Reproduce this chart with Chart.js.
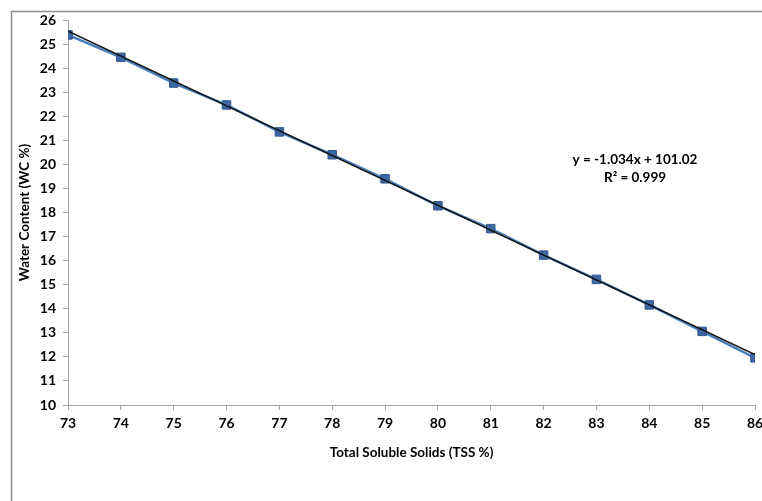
<!DOCTYPE html>
<html>
<head>
<meta charset="utf-8">
<script src="https://cdn.jsdelivr.net/npm/chart.js@4"></script>
<style>
  html, body { margin: 0; padding: 0; background: #fff; }
  #wc { display: block; }
</style>
</head>
<body>
<canvas id="wc" width="762" height="501"></canvas>
<script>
// TSS % on x, water content on y
var tss = [73, 74, 75, 76, 77, 78, 79, 80, 81, 82, 83, 84, 85, 86];
var waterContent = [25.38, 24.45, 23.38, 22.47, 21.35, 20.4, 19.4, 18.28, 17.33, 16.23, 15.22, 14.16, 13.06, 11.96];
// linear trend end points (y = -1.034x + 101.02)
var trendX = [73, 86];
var trendY = [25.54, 12.1];
var equationLines = ["y = -1.034x + 101.02", "R\u00b2 = 0.999"];

var fontFamily = "Lato, 'Open Sans', sans-serif";

var framePlugin = {
  id: 'frame',
  beforeDraw: function(chart) {
    var c = chart.ctx;
    c.save();
    c.strokeStyle = '#8c8c8c';
    c.lineWidth = 1.5;
    c.beginPath();
    c.moveTo(11.5, 501);
    c.lineTo(11.5, 11.5);
    c.lineTo(762, 11.5);
    c.stroke();
    c.restore();
  },
  afterDraw: function(chart) {
    var c = chart.ctx;
    c.save();
    c.fillStyle = '#000';
    c.font = 'bold 13.5px ' + fontFamily;
    c.textAlign = 'center';
    c.textBaseline = 'middle';
    c.fillText(equationLines[0], 635, 160);
    c.fillText(equationLines[1], 635, 178);
    c.restore();
  }
};

var pts = tss.map(function(x, i) { return { x: x, y: waterContent[i] }; });
var trend = trendX.map(function(x, i) { return { x: x, y: trendY[i] }; });

new Chart(document.getElementById('wc'), {
  type: 'scatter',
  data: {
    datasets: [{
      label: 'Trend',
      data: trend,
      showLine: true,
      borderColor: '#111',
      borderWidth: 1.5,
      pointRadius: 0,
      order: 0
    }, {
      label: 'WC',
      data: pts,
      showLine: true,
      borderColor: '#4a7ebb',
      borderWidth: 2.5,
      pointStyle: 'rect',
      pointRadius: 6,
      pointBackgroundColor: '#3b67a3',
      pointBorderColor: '#34598c',
      pointBorderWidth: 1,
      order: 1
    }]
  },
  options: {
    responsive: false,
    animation: false,
    layout: { padding: { left: 12, top: 20, right: 6, bottom: 0 } },
    plugins: {
      legend: { display: false },
      tooltip: { enabled: false }
    },
    scales: {
      x: {
        type: 'linear',
        min: 73,
        max: 86,
        afterFit: function(s) { s.height = 96; s.paddingLeft = 0; s.paddingRight = 0; },
        border: { color: '#a6a6a6', width: 1 },
        grid: { drawOnChartArea: false, color: '#a6a6a6', tickLength: 5 },
        ticks: {
          stepSize: 1,
          color: '#000',
          padding: 5,
          maxRotation: 0,
          font: { family: fontFamily, size: 14, weight: 'bold' }
        },
        title: {
          display: true,
          text: 'Total Soluble Solids (TSS %)',
          color: '#000',
          padding: { top: 0, bottom: 40 },
          font: { family: fontFamily, size: 13.5, weight: 'bold' }
        }
      },
      y: {
        min: 10,
        max: 26,
        afterFit: function(s) { s.width = 56; s.paddingTop = 0; s.paddingBottom = 0; },
        border: { color: '#a6a6a6', width: 1 },
        grid: { drawOnChartArea: false, color: '#a6a6a6', tickLength: 5 },
        ticks: {
          stepSize: 1,
          color: '#000',
          padding: 7,
          font: { family: fontFamily, size: 14, weight: 'bold' }
        },
        title: {
          display: true,
          text: 'Water Content (WC %)',
          color: '#000',
          padding: { top: 5, bottom: 0 },
          font: { family: fontFamily, size: 13.5, weight: 'bold' }
        }
      }
    }
  },
  plugins: [framePlugin]
});
</script>
</body>
</html>
